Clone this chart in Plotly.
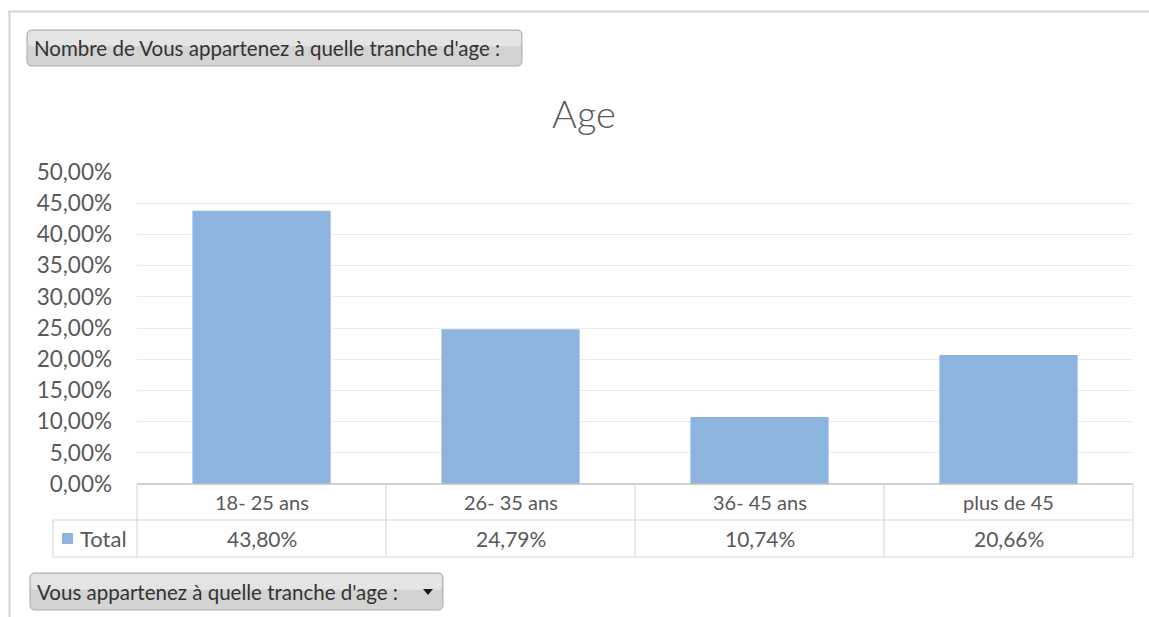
import plotly.graph_objects as go

categories = ["18- 25 ans", "26- 35 ans", "36- 45 ans", "plus de 45"]
totals = [0.4380, 0.2479, 0.1074, 0.2066]
series_name = "Total"
title_text = "Age"
top_button = "Nombre de Vous appartenez à quelle tranche d'age :"
bottom_button = "Vous appartenez à quelle tranche d'age :"

W, H = 1149, 617
L, R, T, B = 137, 1133, 172, 484
FONT = "Lato, Calibri, sans-serif"
GRAY = "#595959"
BAR = "#8cb4df"
LINE = "#d9d9d9"


def px(x):
    return (x - L) / (R - L)


def py(y):
    return (B - y) / (B - T)


fig = go.Figure(go.Bar(x=categories, y=totals, marker=dict(color=BAR, line=dict(width=0)),
                       width=0.555, name=series_name, showlegend=False, hoverinfo="skip"))

shapes = []
annotations = []

# outer chart border
shapes.append(dict(type="line", xref="paper", yref="paper", x0=px(8), x1=px(1149), y0=py(11.5), y1=py(11.5),
                   line=dict(color="#d4d4d4", width=2)))
shapes.append(dict(type="line", xref="paper", yref="paper", x0=px(9.5), x1=px(9.5), y0=py(11), y1=py(617),
                   line=dict(color="#d4d4d4", width=2)))


def rounded(x0, y0, x1, y1, r=5):
    X0, X1 = px(x0), px(x1)
    Y0, Y1 = py(y0), py(y1)
    rx = r / (R - L)
    ry = r / (B - T)
    return (f"M {X0+rx},{Y0} L {X1-rx},{Y0} Q {X1},{Y0} {X1},{Y0-ry} L {X1},{Y1+ry} Q {X1},{Y1} {X1-rx},{Y1} "
            f"L {X0+rx},{Y1} Q {X0},{Y1} {X0},{Y1+ry} L {X0},{Y0-ry} Q {X0},{Y0} {X0+rx},{Y0} Z")


for (x0, y0, x1, y1, txt) in [(27, 30, 522, 66, top_button), (30, 573, 443, 610, bottom_button)]:
    shapes.append(dict(type="path", xref="paper", yref="paper", path=rounded(x0, y0, x1, y1),
                       fillcolor="#d3d3d3", line=dict(color="#a9a9a9", width=1)))
    shapes.append(dict(type="path", xref="paper", yref="paper", path=rounded(x0 + 1, y0 + 1, x1 - 1, y0 + (y1 - y0) * 0.45, r=4),
                       fillcolor="#e4e4e4", line=dict(width=0)))
    annotations.append(dict(text=txt, xref="paper", yref="paper", x=px(x0 + 5), y=py((y0 + y1) / 2),
                            xanchor="left", yanchor="middle", showarrow=False,
                            font=dict(family=FONT, size=20.5, color="#333333")))

# dropdown triangle
tx, ty = 428, 592
shapes.append(dict(type="path", xref="paper", yref="paper",
                   path=f"M {px(tx-5)},{py(ty-3)} L {px(tx+5)},{py(ty-3)} L {px(tx)},{py(ty+3)} Z",
                   fillcolor="#1a1a1a", line=dict(width=0)))

# data table
row1_top, row1_bot, row2_bot = 484, 520, 557
left_col = 53
n = len(categories)
shapes.append(dict(type="line", xref="paper", yref="paper", x0=0, x1=1, y0=py(row1_top), y1=py(row1_top),
                   line=dict(color="#bfbfbf", width=1.5)))
for yy in (row1_bot, row2_bot):
    shapes.append(dict(type="line", xref="paper", yref="paper", x0=px(left_col), x1=1, y0=py(yy), y1=py(yy),
                       line=dict(color=LINE, width=1.2)))
shapes.append(dict(type="line", xref="paper", yref="paper", x0=px(left_col), x1=px(left_col),
                   y0=py(row1_bot), y1=py(row2_bot), line=dict(color=LINE, width=1.2)))
for i in range(n + 1):
    xx = i / n
    shapes.append(dict(type="line", xref="paper", yref="paper", x0=xx, x1=xx,
                       y0=py(row1_top), y1=py(row2_bot), line=dict(color=LINE, width=1.2)))

for i, (c, v) in enumerate(zip(categories, totals)):
    xc = (i + 0.5) / n
    annotations.append(dict(text=c, xref="paper", yref="paper", x=xc, y=py((row1_top + row1_bot) / 2),
                            xanchor="center", yanchor="middle", showarrow=False,
                            font=dict(family=FONT, size=20, color=GRAY)))
    annotations.append(dict(text=f"{v*100:.2f}%".replace(".", ","), xref="paper", yref="paper", x=xc,
                            y=py((row1_bot + row2_bot) / 2), xanchor="center", yanchor="middle", showarrow=False,
                            font=dict(family=FONT, size=21, color=GRAY)))

# legend key in table
shapes.append(dict(type="rect", xref="paper", yref="paper", x0=px(62), x1=px(73), y0=py(533), y1=py(544),
                   fillcolor=BAR, line=dict(width=0)))
annotations.append(dict(text=series_name, xref="paper", yref="paper", x=px(78), y=py((row1_bot + row2_bot) / 2),
                        xanchor="left", yanchor="middle", showarrow=False,
                        font=dict(family=FONT, size=22, color=GRAY)))

fig.update_layout(
    width=W, height=H,
    margin=dict(l=L, r=W - R, t=T, b=H - B),
    paper_bgcolor="white", plot_bgcolor="white",
    separators=", ",
    title=dict(text=title_text, x=584 / W, xanchor="center", xref="container",
               y=1 - 115 / H, yanchor="middle", yref="container",
               font=dict(family=FONT, size=38, color=GRAY, weight=300)),
    xaxis=dict(showticklabels=False, showgrid=False, zeroline=False, showline=False, ticks=""),
    yaxis=dict(range=[0, 0.5], dtick=0.05, tickformat=".2%", showgrid=True, gridcolor="#ececec", gridwidth=1,
               zeroline=False, showline=False, ticks="", ticklabelstandoff=24,
               tickfont=dict(family=FONT, size=22.5, color=GRAY)),
    shapes=shapes, annotations=annotations,
    bargap=0.445,
)

fig.write_html("out.html")
